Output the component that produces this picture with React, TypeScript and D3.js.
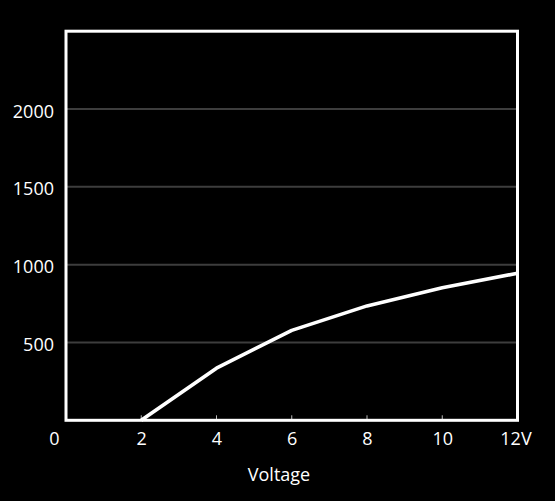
import React from "react";
import * as d3 from "d3";

const voltages = [2, 4, 6, 8, 10, 12];
const rpmValues = [0, 335, 578, 735, 852, 945];
const yTicks = [500, 1000, 1500, 2000];
const xTicks = [0, 2, 4, 6, 8, 10, 12];
const xTickLabels = ["0", "2", "4", "6", "8", "10", "12V"];
const xTitle = "Voltage";

const W = 555;
const H = 501;
const FONT = "'Open Sans', 'Noto Sans', sans-serif";

export default function App() {
  const x = d3.scaleLinear().domain([0, 12]).range([66, 517.5]);
  const y = d3.scaleLinear().domain([0, 2500]).range([420.3, 31.2]);
  const line = d3
    .line<number>()
    .x((_, i) => x(voltages[i]))
    .y((d) => y(d));
  const pts = rpmValues;

  return (
    <svg
      width={W}
      height={H}
      style={{ position: "absolute", left: 0, top: 0, display: "block", background: "#000" }}
    >
      <rect x={0} y={0} width={W} height={H} fill="#000" />
      {yTicks.map((t) => (
        <line
          key={t}
          x1={x(0)}
          x2={x(12)}
          y1={y(t)}
          y2={y(t)}
          stroke="#3d3d3d"
          strokeWidth={2}
        />
      ))}
      {xTicks.slice(1, -1).map((t) => (
        <line
          key={"tk" + t}
          x1={x(t)}
          x2={x(t)}
          y1={y(0)}
          y2={y(0) - 5}
          stroke="#bbbbbb"
          strokeWidth={1}
        />
      ))}
      <path
        d={line(pts) || ""}
        fill="none"
        stroke="#fff"
        strokeWidth={3.6}
        strokeLinejoin="round"
      />
      <rect
        x={x(0)}
        y={y(2500)}
        width={x(12) - x(0)}
        height={y(0) - y(2500)}
        fill="none"
        stroke="#fff"
        strokeWidth={3}
      />
      {yTicks.map((t) => (
        <text
          key={"yl" + t}
          x={x(0) - 12}
          y={y(t) + 1.5}
          textAnchor="end"
          dominantBaseline="central"
          fill="#fff"
          fontFamily={FONT}
          fontSize={18}
        >
          {t}
        </text>
      ))}
      {xTicks.map((t, i) => (
        <text
          key={"xl" + t}
          x={t === 0 ? x(0) - 6.5 : x(t) + (t === 12 ? -1.5 : 0.5)}
          y={438}
          textAnchor={t === 0 ? "end" : "middle"}
          dominantBaseline="central"
          fill="#fff"
          fontFamily={FONT}
          fontSize={18}
        >
          {xTickLabels[i]}
        </text>
      ))}
      <text
        x={279}
        y={474}
        textAnchor="middle"
        dominantBaseline="central"
        fill="#fff"
        fontFamily={FONT}
        fontSize={18}
      >
        {xTitle}
      </text>
    </svg>
  );
}
